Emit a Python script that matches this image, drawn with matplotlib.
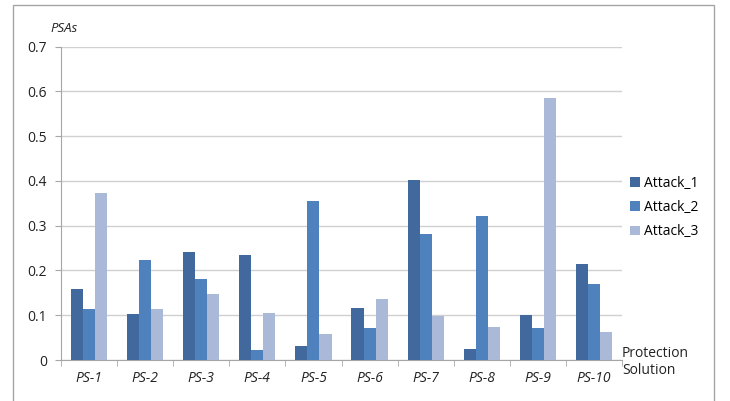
import numpy as np
import matplotlib.pyplot as plt
from matplotlib.patches import Rectangle

solutions = ["PS-1", "PS-2", "PS-3", "PS-4", "PS-5", "PS-6", "PS-7", "PS-8", "PS-9", "PS-10"]
attack_1 = [0.158, 0.103, 0.242, 0.234, 0.031, 0.117, 0.402, 0.025, 0.100, 0.214]
attack_2 = [0.113, 0.223, 0.182, 0.023, 0.355, 0.071, 0.281, 0.322, 0.072, 0.170]
attack_3 = [0.373, 0.113, 0.147, 0.104, 0.059, 0.136, 0.098, 0.074, 0.586, 0.062]
series = ["Attack_1", "Attack_2", "Attack_3"]
colors = ["#41699d", "#4f81bd", "#aab9d8"]

plt.rcParams["font.family"] = ["Open Sans", "DejaVu Sans"]

fig = plt.figure(figsize=(7.3, 4.01), dpi=100)
# chart frame
fig.patches.append(Rectangle((13 / 730, -0.05), 701 / 730, 1 - 5 / 401 + 0.05,
                             transform=fig.transFigure, fill=False,
                             edgecolor="#a6a6a6", linewidth=1.0))

ax = fig.add_axes([61 / 730, 1 - 360 / 401, 561 / 730, (360 - 46.7) / 401])

x = np.arange(len(solutions))
w = 0.215
for i, (vals, name) in enumerate(zip([attack_1, attack_2, attack_3], series)):
    ax.bar(x + (i - 1) * w, vals, w, color=colors[i], label=name, zorder=3)

ax.set_xlim(-0.5, len(solutions) - 0.5)
ax.set_ylim(0, 0.7)
ax.set_yticks(np.arange(0, 0.71, 0.1))
ax.set_yticklabels(["0"] + [f"{v:.1f}" for v in np.arange(0.1, 0.71, 0.1)])
ax.set_xticks(x)
ax.set_xticklabels(solutions, fontstyle="italic")
ax.set_xticks(np.arange(-0.5, len(solutions), 1), minor=True)
ax.tick_params(axis="x", which="major", length=0, pad=8, labelsize=10, labelcolor="#222222")
ax.tick_params(axis="x", which="minor", length=4, color="#a6a6a6")
ax.tick_params(axis="y", length=4, color="#a6a6a6", labelsize=10, pad=6, labelcolor="#222222")
ax.grid(axis="y", color="#d0d0d0", linewidth=1, zorder=0)

for side in ["top", "right"]:
    ax.spines[side].set_visible(False)
for side in ["left", "bottom"]:
    ax.spines[side].set_color("#a6a6a6")

fig.text(50 / 730, 1 - 29 / 401, "PSAs", fontstyle="italic", fontsize=9.5, va="center",
         color="#222222")
fig.text(622 / 730, 1 - 362 / 401, "Protection\nSolution", fontsize=10,
         va="center", ha="left", linespacing=1.2, color="#222222")

ax.legend(loc="upper left", bbox_to_anchor=(1.0, 0.614), frameon=False,
          fontsize=10, handlelength=0.7, handleheight=0.7, handletextpad=0.3,
          labelspacing=0.66, borderaxespad=0.2)

fig.savefig("out.png", dpi=100)
